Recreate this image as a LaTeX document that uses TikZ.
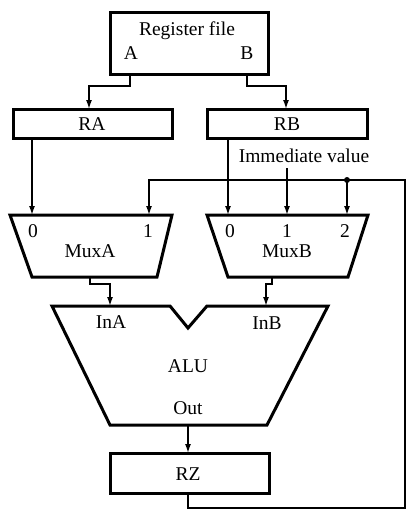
\documentclass[tikz,border=0pt]{standalone}
\usepackage{fontspec}
\setmainfont{Liberation Serif}
\usetikzlibrary{arrows.meta}
\begin{document}
\begin{tikzpicture}[x=1pt,y=-1pt,
  blk/.style={draw,line width=3pt,line join=miter},
  wire/.style={line width=1.5pt},
  arr/.style={wire,-{Latex[length=9pt,width=6pt]}},
  lbl/.style={inner sep=0pt,font=\fontsize{19.5}{22}\selectfont}]
\useasboundingbox (0,0) rectangle (418,522);
% boxes
\draw[blk] (110,12) rectangle (268,74);
\node[lbl] (rf) at (187,31) {Register file};
\node[lbl] (rfA) at (131,53) {A};
\node[lbl] (rfB) at (247,53) {B};
\coordinate (rfAo) at (130,74);
\coordinate (rfBo) at (247,74);
\draw[blk] (13,109) rectangle (172,138);
\node[lbl] (ra) at (92,124) {RA};
\draw[blk] (207,109) rectangle (367,138);
\node[lbl] (rb) at (287,124) {RB};
\coordinate (raI) at (89,109);
\coordinate (rbI) at (286,109);
\coordinate (raO) at (32,138);
\coordinate (rbO) at (228,138);
% muxes
\draw[blk] (10,215) -- (172,215) -- (157,277) -- (32,277) -- cycle;
\draw[blk] (207,215) -- (368,215) -- (348,277) -- (228,277) -- cycle;
\node[lbl] (ma0) at (33,231) {0};
\node[lbl] (ma1) at (148,231) {1};
\node[lbl] (ma) at (90,251) {MuxA};
\node[lbl] (mb0) at (230,231) {0};
\node[lbl] (mb1) at (287,231) {1};
\node[lbl] (mb2) at (345,231) {2};
\node[lbl] (mb) at (287,251) {MuxB};
\coordinate (maI0) at (32,215);
\coordinate (maI1) at (149,215);
\coordinate (mbI0) at (228,215);
\coordinate (mbI1) at (287,215);
\coordinate (mbI2) at (347,215);
\coordinate (maO) at (90,277);
\coordinate (mbO) at (272,277);
% ALU
\draw[blk] (52,306) -- (170,306) -- (188,328) -- (207,306) -- (328,306) -- (267,425) -- (110,425) -- cycle;
\node[lbl] (inA) at (111,322) {InA};
\node[lbl] (inB) at (267,323) {InB};
\node[lbl] (alu) at (188,366) {ALU};
\node[lbl] (out) at (188,408) {Out};
\coordinate (aluIA) at (110,306);
\coordinate (aluIB) at (266,306);
\coordinate (aluO) at (188,425);
% RZ
\draw[blk] (110,453) rectangle (269,493);
\node[lbl] (rz) at (188,474) {RZ};
\coordinate (rzI) at (188,453);
\coordinate (rzO) at (188,493);
% immediate
\node[lbl] (imm) at (304,156) {Immediate value};
\coordinate (immO) at (287,168);
\coordinate (dot) at (347,180);
\coordinate (fbR) at (405,180);
\coordinate (fbB) at (405,508);
% wires
\draw[arr] (rfAo) |- (130,86) -| (raI);
\draw[arr] (rfBo) |- (247,86) -| (rbI);
\draw[arr] (raO) -- (maI0);
\draw[arr] (rbO) -- (mbI0);
\draw[arr] (immO) -- (mbI1);
\draw[wire] (rzO) |- (fbB) -- (fbR) -- (dot);
\draw[arr] (dot) -| (maI1);
\draw[arr] (dot) -- (mbI2);
\fill (dot) circle (3pt);
\draw[arr] (maO) |- (110,284) -- (aluIA);
\draw[arr] (mbO) |- (266,284) -- (aluIB);
\draw[arr] (aluO) -- (rzI);
\end{tikzpicture}
\end{document}
